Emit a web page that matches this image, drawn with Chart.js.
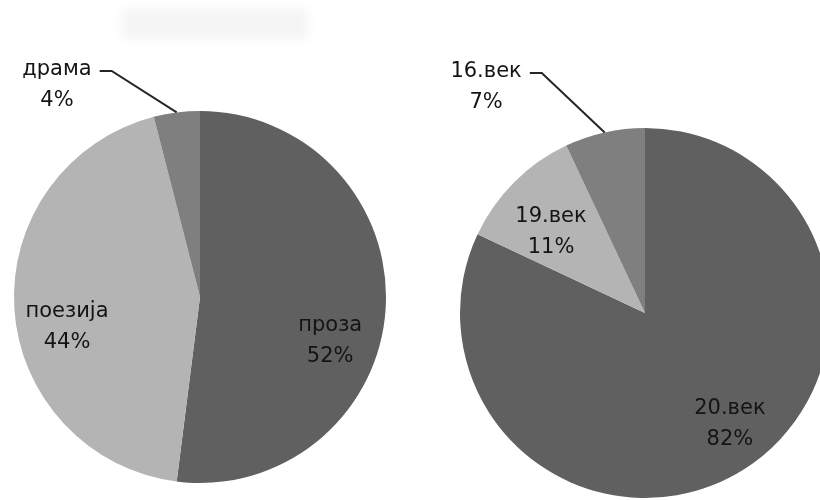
<!DOCTYPE html>
<html lang="sr">
<head>
    <meta charset="UTF-8">
    <title>Заступљеност</title>
    <script src="https://cdn.jsdelivr.net/npm/chart.js"></script>
    <style>
        body {
            margin: 0;
            padding: 0;
            background: #ffffff;
            width: 820px;
            height: 500px;
            overflow: hidden;
            position: relative;
            font-family: "DejaVu Sans", Verdana, sans-serif;
        }

        .title-smudge {
            position: absolute;
            left: 122px;
            top: 9px;
            width: 186px;
            height: 30px;
            background: #f5f5f5;
            filter: blur(5px);
        }

        .pie-box {
            position: absolute;
            top: 0;
            height: 500px;
        }

        #genreBox { left: 0; width: 410px; }
        #centuryBox { left: 410px; width: 440px; }
    </style>
</head>
<body>
    <div class="title-smudge"></div>
    <div class="pie-box" id="genreBox"><canvas id="genreChart"></canvas></div>
    <div class="pie-box" id="centuryBox"><canvas id="centuryChart"></canvas></div>

    <script>
        // по врсти
        const genreLabels = ["проза", "поезија", "драма"];
        const genreValues = [52, 44, 4];

        // по веку
        const centuryLabels = ["20.век", "19.век", "16.век"];
        const centuryValues = [82, 11, 7];

        const sliceColors = ["#606060", "#b4b4b4", "#7f7f7f"];

        // where each label block sits, in units of the pie radius from its centre
        const genreLabelSpots = [
            { dx: 0.70, dy: 0.237 },
            { dx: -0.715, dy: 0.161 },
            { dx: -0.769, dy: -1.14, leader: true }
        ];
        const centuryLabelSpots = [
            { dx: 0.459, dy: 0.60 },
            { dx: -0.508, dy: -0.438 },
            { dx: -0.859, dy: -1.222, leader: true }
        ];

        const sliceLabels = {
            id: "sliceLabels",
            afterDraw(chart, args, opts) {
                const ctx = chart.ctx;
                const meta = chart.getDatasetMeta(0);
                const labels = chart.data.labels;
                const values = chart.data.datasets[0].data;
                ctx.save();
                ctx.font = "21px 'DejaVu Sans', Verdana, sans-serif";
                ctx.fillStyle = "#141414";
                ctx.textAlign = "center";
                ctx.textBaseline = "middle";
                meta.data.forEach((arc, i) => {
                    const spot = opts.spots[i];
                    const r = arc.outerRadius;
                    const lx = arc.x + spot.dx * r;
                    const ly = arc.y + spot.dy * r;
                    const line1 = labels[i];
                    ctx.fillText(line1, lx, ly - 15.5);
                    ctx.fillText(values[i] + "%", lx, ly + 15.5);

                    if (spot.leader) {
                        const mid = (arc.startAngle + arc.endAngle) / 2;
                        const ex = arc.x + Math.cos(mid) * r;
                        const ey = arc.y + Math.sin(mid) * r;
                        const sx = lx + ctx.measureText(line1).width / 2 + 8;
                        const sy = ly - 14;
                        ctx.beginPath();
                        ctx.strokeStyle = "#262626";
                        ctx.lineWidth = 2;
                        ctx.moveTo(sx, sy);
                        ctx.lineTo(sx + 12, sy);
                        ctx.lineTo(ex, ey);
                        ctx.stroke();
                    }
                });
                ctx.restore();
            }
        };

        function makePie(canvasId, labels, values, spots, padding) {
            return new Chart(document.getElementById(canvasId), {
                type: "pie",
                data: {
                    labels: labels,
                    datasets: [{
                        data: values,
                        backgroundColor: sliceColors,
                        borderWidth: 0
                    }]
                },
                options: {
                    responsive: true,
                    maintainAspectRatio: false,
                    animation: false,
                    layout: { padding: padding },
                    plugins: {
                        legend: { display: false },
                        tooltip: { enabled: false },
                        sliceLabels: { spots: spots }
                    }
                },
                plugins: [sliceLabels]
            });
        }

        makePie("genreChart", genreLabels, genreValues, genreLabelSpots,
            { left: 14, right: 24, top: 111, bottom: 17 });
        makePie("centuryChart", centuryLabels, centuryValues, centuryLabelSpots,
            { left: 50, right: 20, top: 128, bottom: 2 });
    </script>
</body>
</html>
